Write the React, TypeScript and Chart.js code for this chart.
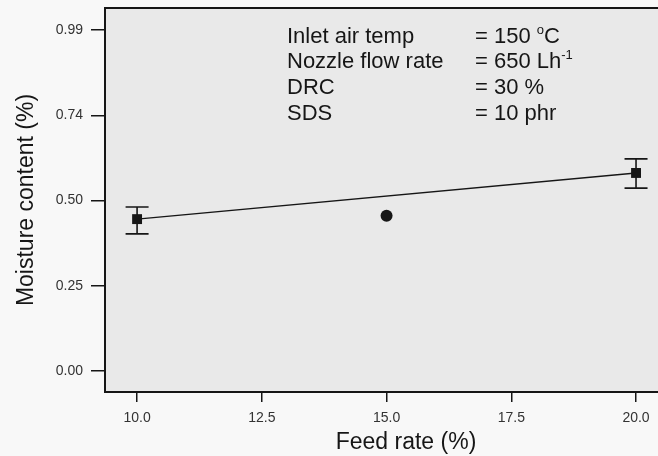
import { useEffect, useRef } from "react";
import { Chart, registerables } from "chart.js";

Chart.register(...registerables);

// ---- data ----
const feedRate = [10, 20];
const moistureMean = [0.441, 0.575];
const moistureLow = [0.398, 0.531];
const moistureHigh = [0.476, 0.616];
const centerFeed = [15];
const centerMoisture = [0.451];
const xTicks = [10, 12.5, 15, 17.5, 20];
const yTicks = [0, 0.2475, 0.495, 0.7425, 0.99];
const yTickLabels = ["0.00", "0.25", "0.50", "0.74", "0.99"];
const conditionNames = ["Inlet air temp", "Nozzle flow rate", "DRC", "SDS"];
const conditionValues = ["= 150 ", "= 650 Lh", "= 30 %", "= 10 phr"];
const conditionSups = ["o", "-1", "", ""];
const conditionTails = ["C", "", "", ""];
const xTitle = "Feed rate (%)";
const yTitle = "Moisture content (%)";

const FONT = '"Liberation Sans", Arial, Helvetica, sans-serif';
const INK = "#161616";

const decorPlugin = {
  id: "decor",
  beforeDraw(chart: any) {
    const { ctx, chartArea: a, width, height } = chart;
    ctx.save();
    ctx.fillStyle = "#f8f8f8";
    ctx.fillRect(0, 0, width, height);
    ctx.fillStyle = "#e9e9e9";
    ctx.fillRect(a.left, a.top, width - a.left, a.bottom - a.top);
    ctx.restore();
  },
  beforeDatasetsDraw(chart: any) {
    const { ctx } = chart;
    const xs = chart.scales.x;
    const ys = chart.scales.y;
    ctx.save();
    ctx.strokeStyle = INK;
    ctx.lineWidth = 1.6;
    feedRate.forEach((fx, i) => {
      const px = xs.getPixelForValue(fx);
      const lo = ys.getPixelForValue(moistureLow[i]);
      const hi = ys.getPixelForValue(moistureHigh[i]);
      ctx.beginPath();
      ctx.moveTo(px, lo);
      ctx.lineTo(px, hi);
      ctx.moveTo(px - 11.5, lo);
      ctx.lineTo(px + 11.5, lo);
      ctx.moveTo(px - 11.5, hi);
      ctx.lineTo(px + 11.5, hi);
      ctx.stroke();
    });
    ctx.restore();
  },
  afterDraw(chart: any) {
    const { ctx, chartArea: a, width } = chart;
    ctx.save();
    // frame (open on the right, runs to the picture edge)
    ctx.strokeStyle = INK;
    ctx.lineWidth = 2;
    ctx.beginPath();
    ctx.moveTo(width, a.top);
    ctx.lineTo(a.left, a.top);
    ctx.lineTo(a.left, a.bottom);
    ctx.lineTo(width, a.bottom);
    ctx.stroke();

    // condition text
    ctx.fillStyle = INK;
    ctx.textBaseline = "alphabetic";
    ctx.textAlign = "left";
    const c1 = a.left + 182;
    const c2 = a.left + 370;
    const base = [a.top + 35, a.top + 60, a.top + 86, a.top + 112];
    conditionNames.forEach((name, i) => {
      ctx.font = `22px ${FONT}`;
      ctx.fillText(name, c1, base[i]);
      ctx.fillText(conditionValues[i], c2, base[i]);
      let x = c2 + ctx.measureText(conditionValues[i]).width;
      if (conditionSups[i]) {
        ctx.font = `13px ${FONT}`;
        ctx.fillText(conditionSups[i], x, base[i] - 9);
        x += ctx.measureText(conditionSups[i]).width;
      }
      if (conditionTails[i]) {
        ctx.font = `22px ${FONT}`;
        ctx.fillText(conditionTails[i], x, base[i]);
      }
    });

    // axis titles
    ctx.font = `23px ${FONT}`;
    ctx.textAlign = "center";
    ctx.fillText(xTitle, 406, 449);
    ctx.translate(33, (a.top + a.bottom) / 2);
    ctx.rotate(-Math.PI / 2);
    ctx.fillText(yTitle, 0, 0);
    ctx.restore();
  },
};

export default function App() {
  const ref = useRef<HTMLCanvasElement | null>(null);

  useEffect(() => {
    document.body.style.margin = "0";
    const canvas = ref.current;
    if (!canvas) return;
    const chart = new Chart(canvas, {
      type: "scatter",
      data: {
        datasets: [
          {
            type: "line",
            data: feedRate.map((x, i) => ({ x, y: moistureMean[i] })),
            borderColor: INK,
            borderWidth: 1.4,
            pointRadius: 0,
            fill: false,
          } as any,
          {
            data: feedRate.map((x, i) => ({ x, y: moistureMean[i] })),
            pointStyle: "rect",
            pointRadius: 7,
            backgroundColor: INK,
            borderColor: INK,
            borderWidth: 0,
          },
          {
            data: centerFeed.map((x, i) => ({ x, y: centerMoisture[i] })),
            pointStyle: "circle",
            pointRadius: 6,
            backgroundColor: INK,
            borderColor: INK,
            borderWidth: 0,
          },
        ],
      },
      options: {
        animation: false,
        responsive: false,
        devicePixelRatio: 1,
        layout: { padding: { top: 8, right: 0, left: 0, bottom: 0 } },
        plugins: { legend: { display: false }, tooltip: { enabled: false } },
        scales: {
          x: {
            type: "linear",
            min: 9.357,
            max: 20.3,
            afterBuildTicks: (s: any) => {
              s.ticks = xTicks.map((v) => ({ value: v }));
            },
            afterFit: (s: any) => {
              s.height = 64;
              s.paddingLeft = 0;
              s.paddingRight = 0;
            },
            ticks: {
              autoSkip: false,
              maxRotation: 0,
              padding: 8,
              color: "#333",
              font: { size: 14, family: FONT },
              callback: (v: any) => Number(v).toFixed(1),
            },
            grid: { drawOnChartArea: false, drawTicks: true, tickLength: 10, color: INK, lineWidth: 1.5 },
            border: { display: false },
          },
          y: {
            type: "linear",
            min: -0.061,
            max: 1.054,
            afterBuildTicks: (s: any) => {
              s.ticks = yTicks.map((v) => ({ value: v }));
            },
            afterFit: (s: any) => {
              s.width = 105;
              s.paddingTop = 0;
              s.paddingBottom = 0;
            },
            ticks: {
              autoSkip: false,
              padding: 8,
              color: "#333",
              font: { size: 14, family: FONT },
              callback: (v: any) => {
                const idx = yTicks.findIndex((t) => Math.abs(t - Number(v)) < 1e-6);
                return idx >= 0 ? yTickLabels[idx] : "";
              },
            },
            grid: { drawOnChartArea: false, drawTicks: true, tickLength: 14, color: INK, lineWidth: 1.5 },
            border: { display: false },
          },
        },
      },
      plugins: [decorPlugin],
    });
    return () => chart.destroy();
  }, []);

  return (
    <div style={{ width: 658, height: 456, overflow: "hidden" }}>
      <canvas ref={ref} width={658} height={456} style={{ display: "block", width: 658, height: 456 }} />
    </div>
  );
}
